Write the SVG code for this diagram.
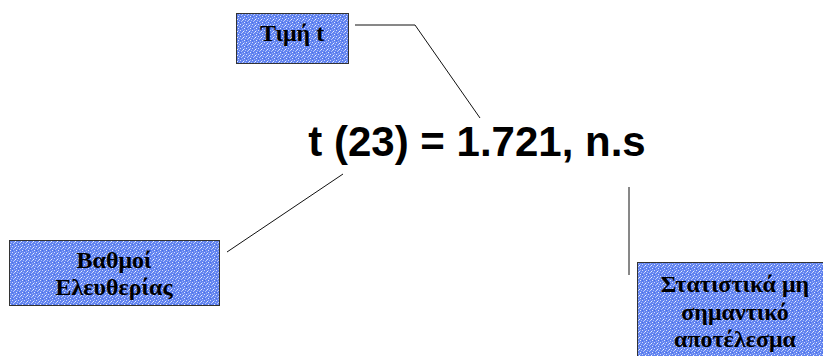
<svg xmlns="http://www.w3.org/2000/svg" width="823" height="356" viewBox="0 0 823 356">
<defs>
<pattern id="tex" x="0" y="0" width="6" height="6" patternUnits="userSpaceOnUse">
<rect width="6" height="6" fill="#6284f0"/>
<rect x="0" y="0" width="1" height="1" fill="#d2dcfc"/>
<rect x="3" y="1" width="1" height="1" fill="#eef2ff"/>
<rect x="1" y="3" width="1" height="1" fill="#b3c4f9"/>
<rect x="4" y="4" width="1" height="1" fill="#e2e9fe"/>
<rect x="2" y="5" width="1" height="1" fill="#98aef6"/>
<rect x="5" y="2" width="1" height="1" fill="#aabdf8"/>
<rect x="0" y="4" width="1" height="1" fill="#4a6ee6"/>
<rect x="4" y="0" width="1" height="1" fill="#94aaf5"/>
<rect x="2" y="2" width="1" height="1" fill="#c0cefa"/>
</pattern>
</defs>
<style>
.box{fill:url(#tex);stroke:#333;stroke-width:1}
.lbl{font-family:"Liberation Serif","Times New Roman",serif;font-weight:bold;font-size:24px;fill:#000;text-anchor:middle}
.main{font-family:"Liberation Sans",Arial,sans-serif;font-weight:bold;font-size:42px;fill:#000;text-anchor:middle}
.conn{fill:none;stroke:#111;stroke-width:1}
</style>
<rect width="823" height="356" fill="#fff"/>
<g id="connectors">
<polyline class="conn" points="355,25 415,25 480,118"/>
<line class="conn" x1="227" y1="252" x2="343" y2="174"/>
<line class="conn" x1="629" y1="187" x2="629" y2="275"/>
</g>
<g id="main-text">
<text class="main" x="477" y="156">t (23) = 1.721, n.s</text>
</g>
<g id="node-timi">
<rect class="box" x="236.5" y="13.5" width="112" height="50"/>
<text class="lbl" x="292" y="41">Τιμή t</text>
</g>
<g id="node-vathmoi">
<rect class="box" x="9.5" y="240.5" width="210" height="65"/>
<text class="lbl" x="114" y="268">Βαθμοί</text>
<text class="lbl" x="114" y="295">Ελευθερίας</text>
</g>
<g id="node-statistika">
<rect class="box" x="637.5" y="262.5" width="196" height="100"/>
<text class="lbl" x="735" y="292">Στατιστικά μη</text>
<text class="lbl" x="735" y="320">σημαντικό</text>
<text class="lbl" x="735" y="347">αποτέλεσμα</text>
</g>
</svg>
